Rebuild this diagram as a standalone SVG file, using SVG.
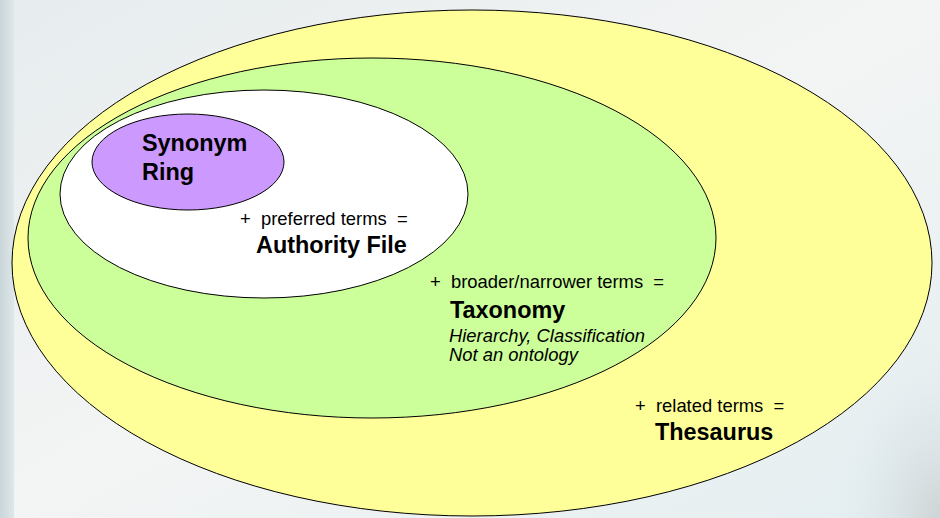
<svg xmlns="http://www.w3.org/2000/svg" width="940" height="518" viewBox="0 0 940 518">
  <defs>
    <linearGradient id="bg" x1="0" y1="0" x2="1" y2="1">
      <stop offset="0" stop-color="#e6ecee"/>
      <stop offset="0.5" stop-color="#f3f4f4"/>
      <stop offset="1" stop-color="#e4eef1"/>
    </linearGradient>
    <linearGradient id="leftStrip" x1="0" y1="0" x2="1" y2="0">
      <stop offset="0" stop-color="#c9d6da"/>
      <stop offset="1" stop-color="#dfe7e9"/>
    </linearGradient>
    <radialGradient id="rightShade" cx="1" cy="1" r="1">
      <stop offset="0" stop-color="#cdd4d6"/>
      <stop offset="1" stop-color="#e4eef1" stop-opacity="0"/>
    </radialGradient>
    <style>
      .ring { stroke: #000; stroke-width: 1; }
      .small { font-family: "Liberation Sans", Arial, sans-serif; font-size: 18.4px; fill: #000; }
      .big { font-family: "Liberation Sans", Arial, sans-serif; font-size: 23.4px; font-weight: bold; fill: #000; }
      .ital { font-family: "Liberation Sans", Arial, sans-serif; font-size: 18.4px; font-style: italic; fill: #000; }
    </style>
  </defs>

  <g id="background">
    <rect x="0" y="0" width="940" height="518" fill="url(#bg)"/>
    <rect x="0" y="0" width="14" height="518" fill="url(#leftStrip)"/>
    <rect x="820" y="330" width="120" height="188" fill="url(#rightShade)"/>
  </g>

  <g id="thesaurus">
    <ellipse class="ring" cx="472" cy="263" rx="460" ry="253" fill="#ffff99"/>
  </g>
  <g id="taxonomy">
    <ellipse class="ring" cx="372" cy="238" rx="344" ry="180" fill="#ccff99"/>
  </g>
  <g id="authority-file">
    <ellipse class="ring" cx="264" cy="194" rx="204" ry="104" fill="#ffffff"/>
  </g>
  <g id="synonym-ring">
    <ellipse class="ring" cx="188" cy="162" rx="96" ry="48" fill="#cc99ff"/>
    <text class="big" x="142" y="151">Synonym</text>
    <text class="big" x="142" y="180">Ring</text>
  </g>

  <g id="labels-authority">
    <text class="small" x="240" y="225" xml:space="preserve">+  preferred terms  =</text>
    <text class="big" x="256" y="253">Authority File</text>
  </g>
  <g id="labels-taxonomy">
    <text class="small" x="430" y="288" xml:space="preserve">+  broader/narrower terms  =</text>
    <text class="big" x="450" y="318">Taxonomy</text>
    <text class="ital" x="449" y="342">Hierarchy, Classification</text>
    <text class="ital" x="449" y="361">Not an ontology</text>
  </g>
  <g id="labels-thesaurus">
    <text class="small" x="635" y="412" xml:space="preserve">+  related terms  =</text>
    <text class="big" x="655" y="440">Thesaurus</text>
  </g>

  <g id="connectors"></g>
</svg>
